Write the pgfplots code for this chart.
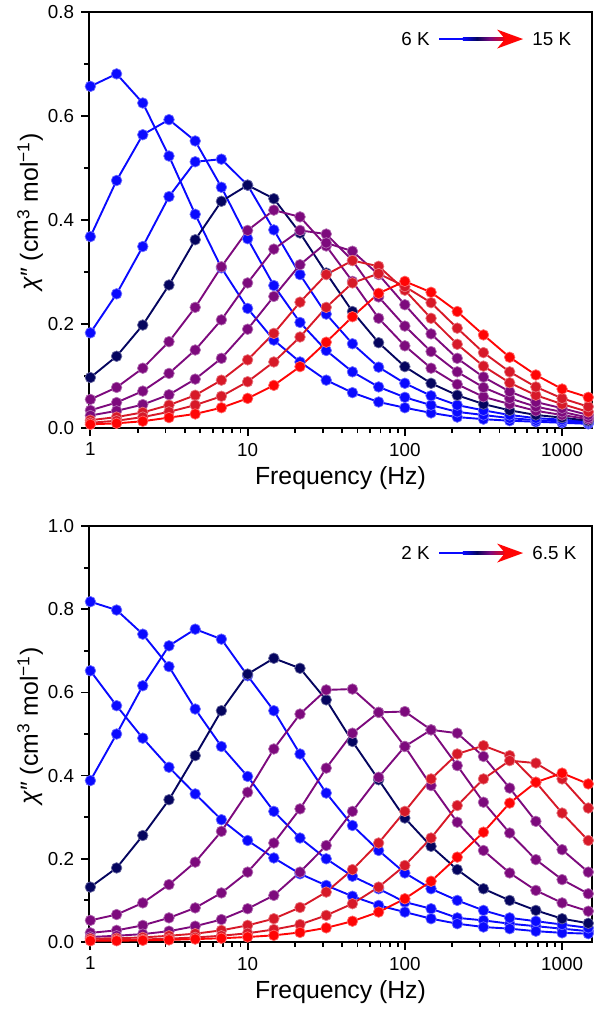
\documentclass[border=0pt]{standalone}
\usepackage{fontspec}
\setmainfont{Liberation Sans}
\usepackage{pgfplots}
\usepackage{pgfplotstable}
\pgfplotsset{compat=1.18}

\definecolor{cblue}{RGB}{10,10,255}
\definecolor{cnavy}{RGB}{5,5,95}
\definecolor{cpurple}{RGB}{125,10,125}
\definecolor{ccrim}{RGB}{215,25,40}
\definecolor{cred}{RGB}{255,5,5}

\pgfplotstableread{
f      A     B     C     N     P1    P2    P3    R1    R2    R3
1      0.657 0.368 0.183 0.097 0.055 0.034 0.024 0.015 0.010 0.007
1.468  0.681 0.476 0.258 0.138 0.078 0.049 0.033 0.021 0.014 0.009
2.154  0.625 0.564 0.349 0.198 0.115 0.071 0.045 0.030 0.021 0.013
3.162  0.523 0.593 0.445 0.275 0.166 0.105 0.064 0.044 0.031 0.020
4.642  0.411 0.552 0.512 0.362 0.232 0.150 0.094 0.063 0.044 0.027
6.813  0.308 0.463 0.517 0.436 0.310 0.208 0.134 0.092 0.061 0.039
10     0.230 0.364 0.467 0.467 0.380 0.279 0.190 0.131 0.089 0.057
14.68  0.169 0.274 0.381 0.441 0.419 0.344 0.253 0.182 0.127 0.082
21.54  0.127 0.203 0.295 0.375 0.406 0.380 0.314 0.242 0.175 0.118
31.62  0.092 0.149 0.219 0.298 0.350 0.373 0.356 0.295 0.232 0.165
46.42  0.068 0.108 0.162 0.224 0.282 0.322 0.340 0.322 0.279 0.214
68.13  0.050 0.079 0.117 0.164 0.211 0.252 0.295 0.311 0.297 0.259
100    0.039 0.059 0.086 0.118 0.158 0.196 0.237 0.265 0.272 0.282
146.8  0.029 0.044 0.062 0.086 0.115 0.147 0.181 0.211 0.241 0.261
215.4  0.021 0.031 0.044 0.063 0.084 0.108 0.134 0.161 0.192 0.224
316.2  0.017 0.025 0.034 0.046 0.060 0.078 0.098 0.119 0.145 0.179
464.2  0.014 0.019 0.025 0.034 0.046 0.057 0.070 0.087 0.108 0.136
681.3  0.012 0.015 0.019 0.025 0.033 0.041 0.050 0.063 0.079 0.102
1000   0.010 0.013 0.016 0.020 0.025 0.031 0.038 0.046 0.057 0.075
1468   0.008 0.010 0.012 0.014 0.017 0.020 0.025 0.031 0.041 0.059
}\topdata

\pgfplotstableread{
f      A     B     C     N     P1    P2    P3    R1    R2    R3
1      0.818 0.652 0.388 0.132 0.052 0.022 0.012 0.008 0.004 0.003
1.468  0.798 0.568 0.500 0.178 0.066 0.028 0.015 0.009 0.005 0.003
2.154  0.740 0.490 0.616 0.256 0.094 0.040 0.019 0.011 0.006 0.004
3.162  0.662 0.420 0.712 0.342 0.138 0.058 0.026 0.015 0.008 0.005
4.642  0.560 0.356 0.752 0.448 0.192 0.082 0.038 0.020 0.011 0.007
6.813  0.470 0.294 0.728 0.556 0.266 0.118 0.054 0.028 0.015 0.009
10     0.398 0.244 0.640 0.644 0.360 0.168 0.080 0.040 0.021 0.012
14.68  0.314 0.202 0.556 0.682 0.464 0.238 0.112 0.056 0.030 0.016
21.54  0.250 0.164 0.452 0.658 0.548 0.320 0.168 0.083 0.042 0.023
31.62  0.200 0.136 0.358 0.582 0.606 0.418 0.232 0.120 0.064 0.034
46.42  0.158 0.110 0.280 0.482 0.608 0.502 0.314 0.174 0.092 0.050
68.13  0.128 0.088 0.220 0.390 0.552 0.552 0.396 0.238 0.132 0.072
100    0.096 0.072 0.166 0.298 0.470 0.554 0.470 0.314 0.184 0.104
146.8  0.080 0.056 0.128 0.230 0.376 0.510 0.510 0.392 0.250 0.146
215.4  0.058 0.044 0.100 0.174 0.288 0.424 0.502 0.452 0.328 0.204
316.2  0.052 0.036 0.076 0.128 0.220 0.336 0.446 0.472 0.392 0.264
464.2  0.044 0.032 0.058 0.100 0.166 0.262 0.370 0.448 0.436 0.334
681.3  0.038 0.026 0.050 0.076 0.124 0.198 0.290 0.384 0.430 0.384
1000   0.032 0.022 0.042 0.056 0.094 0.150 0.222 0.310 0.392 0.406
1468   0.026 0.020 0.034 0.045 0.074 0.116 0.168 0.244 0.322 0.380
}\botdata

\newcommand{\tickfont}{\fontsize{9.4}{11}\selectfont}
\newcommand{\labfont}{\fontsize{12.4}{14}\selectfont}

\pgfplotsset{
  ser/.style={color=#1, line width=0.95pt, mark=*, mark size=2.65pt,
    mark options={solid, fill=#1, draw=#1!60!white, line width=0.35pt}},
}

\newcommand{\legarrow}[3]{%
  \begin{scope}[shift={(#1)}]
    \node[anchor=east, font=\tickfont, inner sep=0pt] at (-46.5pt,0) {#2};
    \fill[cblue] (-42pt,-0.7pt) rectangle (-30pt,0.7pt);
    \shade[left color=cblue, right color=cnavy] (-30.05pt,-0.7pt) rectangle (-23pt,0.7pt);
    \shade[left color=cnavy, right color=cpurple] (-23.05pt,-0.7pt) rectangle (-16.5pt,0.7pt);
    \shade[left color=cpurple, right color=cred] (-16.55pt,-0.7pt) rectangle (-8pt,0.7pt);
    \fill[cred] (0,0) -- (-13pt,4.75pt) -- (-9pt,0) -- (-13pt,-4.75pt) -- cycle;
    \node[anchor=west, font=\tickfont, inner sep=0pt] at (4.5pt,0) {#3};
  \end{scope}}

\begin{document}
\begin{tikzpicture}
\useasboundingbox (0,0) rectangle (300pt,507pt);

\begin{axis}[at={(44.5pt,293pt)}, anchor=south west,
    scale only axis, width=251.5pt, height=208pt,
    xmode=log, xmin=0.98, xmax=1550, ymin=0, ymax=0.8, clip=false,
    xtick={1,10,100,1000}, xticklabels={1,10,100,1000},
    ytick={0,0.2,0.4,0.6,0.8}, minor ytick={0.1,0.3,0.5,0.7},
    tick align=outside, xtick pos=bottom, ytick pos=left,
    major tick length=4pt, minor tick length=2.4pt,
    tick style={black, line width=0.9pt},
    axis line style={line width=1.2pt},
    ticklabel style={font=\tickfont},
    /pgf/number format/assume math mode=true,
    yticklabel style={/pgf/number format/fixed, /pgf/number format/fixed zerofill, /pgf/number format/precision=1},
    xlabel={Frequency (Hz)},
    ylabel={{\itshape χ}″ (cm\textsuperscript{3} mol\textsuperscript{−1})},
    label style={font=\labfont},
    xlabel style={at={(axis description cs:0.5,-0.12)}, anchor=center},
    ylabel style={at={(axis description cs:-0.117,0.52)}, anchor=center}]
  \addplot[ser=cblue] table[x=f,y=A] {\topdata};
  \addplot[ser=cblue] table[x=f,y=B] {\topdata};
  \addplot[ser=cblue] table[x=f,y=C] {\topdata};
  \addplot[ser=cnavy] table[x=f,y=N] {\topdata};
  \addplot[ser=cpurple] table[x=f,y=P1] {\topdata};
  \addplot[ser=cpurple] table[x=f,y=P2] {\topdata};
  \addplot[ser=cpurple] table[x=f,y=P3] {\topdata};
  \addplot[ser=ccrim] table[x=f,y=R1] {\topdata};
  \addplot[ser=ccrim] table[x=f,y=R2] {\topdata};
  \addplot[ser=cred] table[x=f,y=R3] {\topdata};
  \coordinate (tipT) at (rel axis cs:0.863,0.935);
\end{axis}
\legarrow{tipT}{6 K}{15 K}

\begin{axis}[at={(44.5pt,36pt)}, anchor=south west,
    scale only axis, width=251.5pt, height=208pt,
    xmode=log, xmin=0.98, xmax=1550, ymin=0, ymax=1.0, clip=false,
    xtick={1,10,100,1000}, xticklabels={1,10,100,1000},
    ytick={0,0.2,0.4,0.6,0.8,1.0}, minor ytick={0.1,0.3,0.5,0.7,0.9},
    tick align=outside, xtick pos=bottom, ytick pos=left,
    major tick length=4pt, minor tick length=2.4pt,
    tick style={black, line width=0.9pt},
    axis line style={line width=1.2pt},
    ticklabel style={font=\tickfont},
    /pgf/number format/assume math mode=true,
    yticklabel style={/pgf/number format/fixed, /pgf/number format/fixed zerofill, /pgf/number format/precision=1},
    xlabel={Frequency (Hz)},
    ylabel={{\itshape χ}″ (cm\textsuperscript{3} mol\textsuperscript{−1})},
    label style={font=\labfont},
    xlabel style={at={(axis description cs:0.5,-0.12)}, anchor=center},
    ylabel style={at={(axis description cs:-0.117,0.52)}, anchor=center}]
  \addplot[ser=cblue] table[x=f,y=A] {\botdata};
  \addplot[ser=cblue] table[x=f,y=B] {\botdata};
  \addplot[ser=cblue] table[x=f,y=C] {\botdata};
  \addplot[ser=cnavy] table[x=f,y=N] {\botdata};
  \addplot[ser=cpurple] table[x=f,y=P1] {\botdata};
  \addplot[ser=cpurple] table[x=f,y=P2] {\botdata};
  \addplot[ser=cpurple] table[x=f,y=P3] {\botdata};
  \addplot[ser=ccrim] table[x=f,y=R1] {\botdata};
  \addplot[ser=ccrim] table[x=f,y=R2] {\botdata};
  \addplot[ser=cred] table[x=f,y=R3] {\botdata};
  \coordinate (tipB) at (rel axis cs:0.863,0.935);
\end{axis}
\legarrow{tipB}{2 K}{6.5 K}

\end{tikzpicture}
\end{document}
